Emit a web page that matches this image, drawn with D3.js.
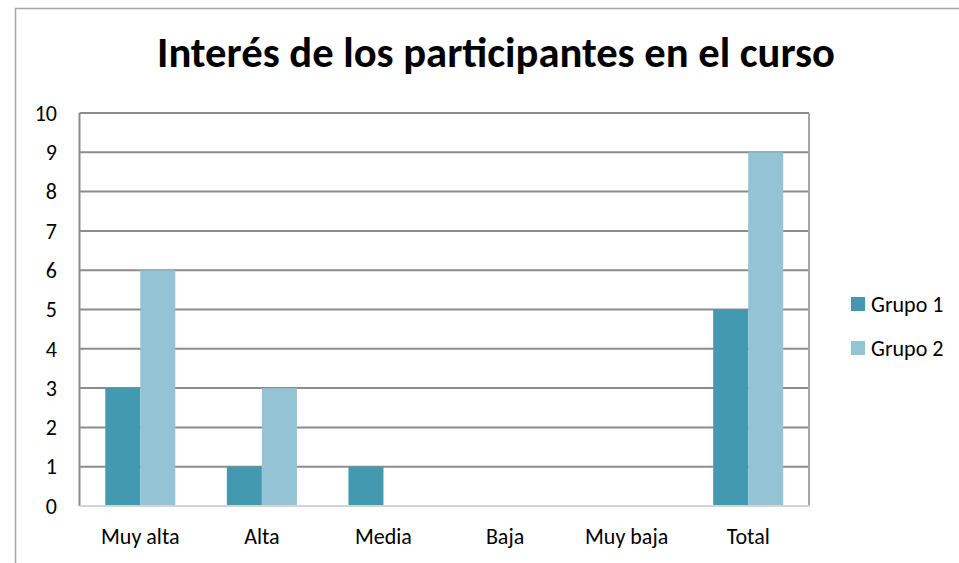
<!DOCTYPE html>
<html>
<head>
<meta charset="utf-8">
<script src="https://cdn.jsdelivr.net/npm/d3@7"></script>
<style>
  html, body { margin: 0; padding: 0; background: #fff; }
  svg { display: block; font-family: Carlito, Lato, "Noto Sans", sans-serif; }
</style>
</head>
<body>
<svg id="chart" width="959" height="563"></svg>
<script>
// chart data
var categories = ["Muy alta", "Alta", "Media", "Baja", "Muy baja", "Total"];
var grupo1 = [3, 1, 1, 0, 0, 5];
var grupo2 = [6, 3, 0, 0, 0, 9];
var seriesNames = ["Grupo 1", "Grupo 2"];
var seriesColors = ["#4399b0", "#93c3d5"];
var yTicks = [0, 1, 2, 3, 4, 5, 6, 7, 8, 9, 10];
var title = "Interés de los participantes en el curso";

var svg = d3.select("#chart");

// outer frame (only top/left edges show in the picture)
svg.append("rect")
  .attr("x", 15.5).attr("y", 8.5)
  .attr("width", 1000).attr("height", 600)
  .attr("fill", "none")
  .attr("stroke", "#a6a6a6")
  .attr("stroke-width", 1.5);

var plot = {left: 79.5, top: 113, right: 809, bottom: 506};

var x = d3.scaleBand()
  .domain(categories)
  .range([plot.left, plot.right]);

var barW = x.bandwidth() * 0.288;

var y = d3.scaleLinear()
  .domain([0, 10])
  .range([plot.bottom, plot.top]);

// grid lines
svg.append("g").selectAll("line")
  .data(yTicks.filter(function(d){ return d > 0; }))
  .enter().append("line")
  .attr("x1", plot.left).attr("x2", plot.right)
  .attr("y1", function(d){ return y(d); })
  .attr("y2", function(d){ return y(d); })
  .attr("stroke", "#8c8c8c")
  .attr("stroke-width", 2);

// right border of plot
svg.append("line")
  .attr("x1", plot.right).attr("x2", plot.right)
  .attr("y1", plot.top).attr("y2", plot.bottom)
  .attr("stroke", "#a6a6a6").attr("stroke-width", 2);

// bars
var rows = categories.map(function(c, i){
  return {cat: c, vals: [grupo1[i], grupo2[i]]};
});

var groups = svg.append("g").selectAll("g")
  .data(rows)
  .enter().append("g");

groups.selectAll("rect")
  .data(function(d){ return d.vals.map(function(v, k){ return {cat: d.cat, v: v, k: k}; }); })
  .enter().append("rect")
  .filter(function(d){ return d.v > 0; })
  .attr("x", function(d){
    var c = x(d.cat) + x.bandwidth() / 2;
    return d.k === 0 ? c - barW : c;
  })
  .attr("y", function(d){ return y(d.v); })
  .attr("width", barW)
  .attr("height", function(d){ return y(0) - y(d.v); })
  .attr("fill", function(d){ return seriesColors[d.k]; });

// left axis line
svg.append("line")
  .attr("x1", plot.left).attr("x2", plot.left)
  .attr("y1", plot.top).attr("y2", plot.bottom)
  .attr("stroke", "#8c8c8c").attr("stroke-width", 2);

// bottom axis line
svg.append("line")
  .attr("x1", plot.left).attr("x2", plot.right + 1)
  .attr("y1", plot.bottom).attr("y2", plot.bottom)
  .attr("stroke", "#d4d4d4").attr("stroke-width", 2);

var labelSize = 22;

// y tick labels
svg.append("g").selectAll("text")
  .data(yTicks)
  .enter().append("text")
  .attr("x", 57)
  .attr("y", function(d){ return y(d); })
  .attr("dy", "0.35em")
  .attr("text-anchor", "end")
  .attr("font-size", labelSize)
  .attr("fill", "#000")
  .text(function(d){ return d; });

// x labels
svg.append("g").selectAll("text")
  .data(categories)
  .enter().append("text")
  .attr("x", function(d){ return x(d) + x.bandwidth() / 2; })
  .attr("y", 544)
  .attr("text-anchor", "middle")
  .attr("font-size", labelSize)
  .attr("fill", "#000")
  .text(function(d){ return d; });

// title, sized to span the same width as the picture
var t = svg.append("text")
  .attr("x", 496)
  .attr("y", 67)
  .attr("text-anchor", "middle")
  .attr("font-weight", "bold")
  .attr("font-size", 38)
  .attr("fill", "#000")
  .text(title);
var tw = t.node().getComputedTextLength();
t.attr("font-size", 38 * 678 / tw);

// legend
var legend = svg.append("g").selectAll("g")
  .data(seriesNames)
  .enter().append("g")
  .attr("transform", function(d, i){ return "translate(851," + (297 + i * 44) + ")"; });

legend.append("rect")
  .attr("width", 14).attr("height", 14)
  .attr("fill", function(d, i){ return seriesColors[i]; });

legend.append("text")
  .attr("x", 20).attr("y", 7)
  .attr("dy", "0.35em")
  .attr("font-size", labelSize)
  .attr("fill", "#000")
  .text(function(d){ return d; });
</script>
</body>
</html>
